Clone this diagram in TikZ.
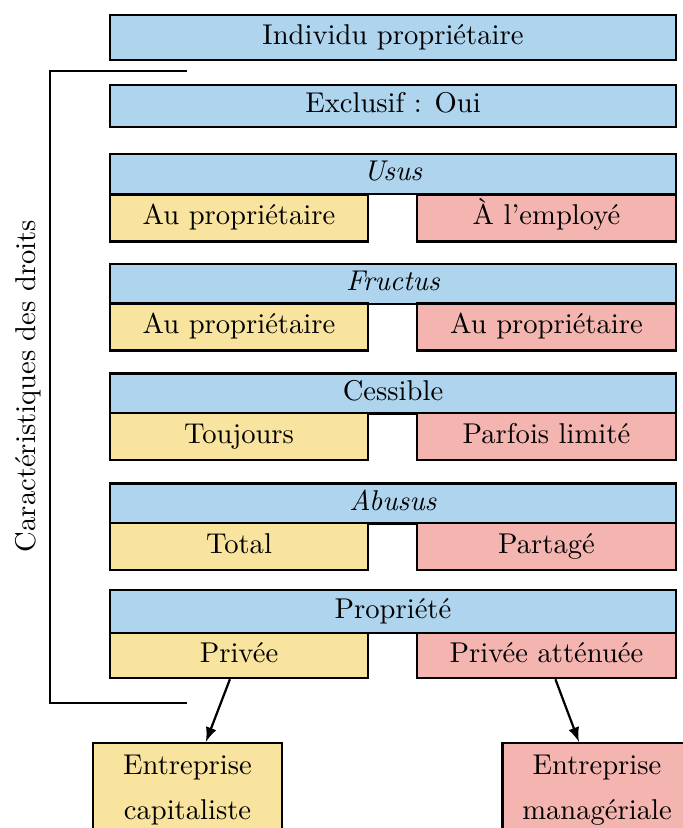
\documentclass[tikz,border=0pt]{standalone}
\usepackage{tikz}
\definecolor{bleu}{HTML}{AED4EE}
\definecolor{jaune}{HTML}{F8E49E}
\definecolor{rouge}{HTML}{F4B5B0}

\begin{document}
\begin{tikzpicture}[x=0.36pt, y=-0.36pt,
  boite/.style={draw, rectangle, line width=0.9pt, inner sep=0pt, text height=7pt, text depth=2pt,
    font=\fontsize{10.3}{12}\selectfont},
  titre/.style={boite, fill=bleu, minimum width=203.8pt, minimum height=14.4pt},
  gauche/.style={boite, fill=jaune, minimum width=92.9pt, minimum height=16.9pt},
  droite/.style={boite, fill=rouge, minimum width=93.2pt, minimum height=16.9pt},
  firme/.style={boite, text height=, text depth=, minimum width=68pt, minimum height=33.8pt, align=center}]
\clip (0,0) rectangle (683,828);

\node[titre, minimum height=16.2pt] (indiv) at (393,37.5){Individu propriétaire};
\node[titre, minimum height=15.1pt] (exclu) at (393,106){Exclusif : Oui};

\node[titre] (usus) at (393,174){\textit{Usus}};
\node[gauche] (usus-g) at (239,218){Au propriétaire};
\node[droite] (usus-d) at (546.5,218){À l'employé};

\node[titre] (fructus) at (393,284){\textit{Fructus}};
\node[gauche] (fructus-g) at (239,327){Au propriétaire};
\node[droite] (fructus-d) at (546.5,327){Au propriétaire};

\node[titre] (cessible) at (393,393.5){Cessible};
\node[gauche] (cessible-g) at (239,436.5){Toujours};
\node[droite] (cessible-d) at (546.5,436.5){Parfois limité};

\node[titre] (abusus) at (393,503.5){\textit{Abusus}};
\node[gauche] (abusus-g) at (239,546.5){Total};
\node[droite] (abusus-d) at (546.5,546.5){Partagé};

\node[titre, minimum height=15.5pt] (propriete) at (393,611.5){Propriété};
\node[gauche, minimum height=16.2pt] (privee) at (239,655.5){Privée};
\node[droite, minimum height=16.2pt] (attenuee) at (546.5,655.5){Privée atténuée};

% les deux types d'entreprise
\node[firme, fill=jaune] (capit) at (187.5,790){Entreprise\\[4pt]capitaliste};
\node[firme, fill=rouge] (manag) at (597,790){Entreprise\\[4pt]managériale};
\draw[->, >=latex, line width=0.8pt] (privee) -- (capit);
\draw[->, >=latex, line width=0.8pt] (attenuee) -- (manag);

% accolade des droits
\draw[line width=0.8pt] (187,71) -- (50,71) -- (50,703) -- (187,703);
\node[rotate=90, font=\fontsize{10.3}{12}\selectfont] (carac) at (28,386){Caractéristiques des droits};
\end{tikzpicture}
\end{document}
